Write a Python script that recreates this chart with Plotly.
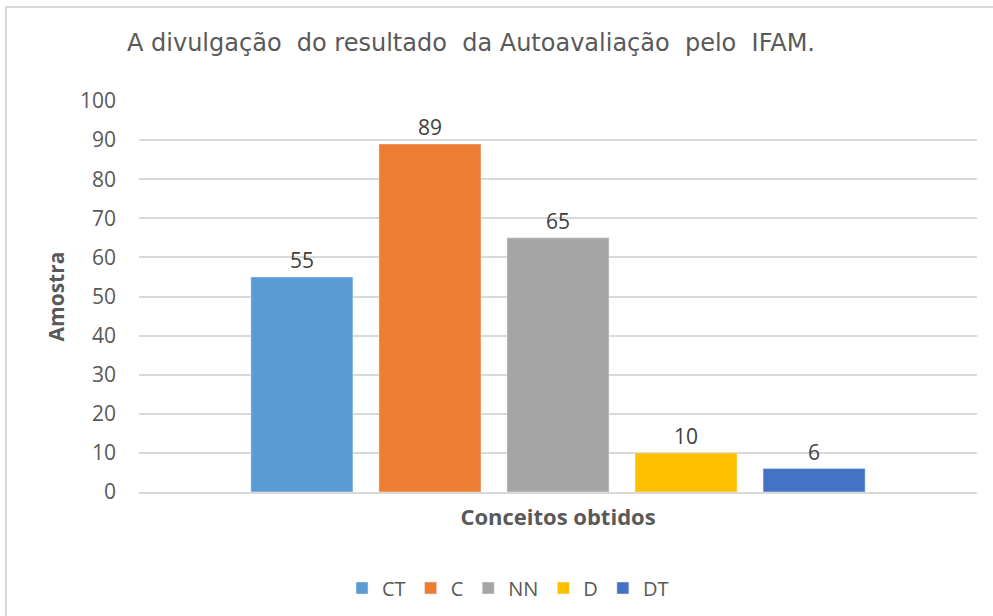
import plotly.graph_objects as go

series = ["CT", "C", "NN", "D", "DT"]
values = [55, 89, 65, 10, 6]
colors = ["#5B9BD5", "#ED7D31", "#A5A5A5", "#FFC000", "#4472C4"]
category = [""]
title_text = "A divulgação  do resultado  da Autoavaliação  pelo  IFAM."
x_title = "Conceitos obtidos"
y_title = "Amostra"
y_ticks = list(range(0, 101, 10))

W, H = 993, 616
L, R, T, B = 139, 16, 101, 124
pw, ph = W - L - R, H - T - B

fig = go.Figure()
for s, v, c in zip(series, values, colors):
    fig.add_trace(go.Bar(
        x=category, y=[v], name=s, marker_color=c,
        text=[str(v)], textposition="outside", cliponaxis=False,
        textfont=dict(family="Open Sans", size=21, color="#404040"),
    ))

fig.update_layout(
    width=W, height=H,
    margin=dict(l=L, r=R, t=T, b=B, autoexpand=False),
    paper_bgcolor="white", plot_bgcolor="white",
    barmode="group", bargap=0.236, bargroupgap=0.203,
    title=dict(text=title_text, x=471 / W, xanchor="center", y=1 - 43 / H, yanchor="middle",
               font=dict(family="DejaVu Sans", size=24, color="#595959")),
    showlegend=True,
    legend=dict(orientation="h", x=(508 - L) / pw, xanchor="center", y=-(588 - (T + ph)) / ph, yanchor="middle",
                font=dict(family="Open Sans", size=20, color="#595959"),
                itemwidth=30, traceorder="normal", tracegroupgap=0),
    xaxis=dict(showticklabels=False, showgrid=False, showline=True, linecolor="#D9D9D9", linewidth=2,
               title=dict(text=x_title, standoff=17,
                          font=dict(family="Open Sans", size=22, color="#595959", weight="bold"))),
    yaxis=dict(range=[0, 100], tickvals=y_ticks, showgrid=True, gridcolor="#D9D9D9", gridwidth=1.5,
               zeroline=False, showline=False, ticklabelstandoff=22,
               tickfont=dict(family="Open Sans", size=21, color="#595959"),
               title=dict(text=y_title, standoff=9,
                          font=dict(family="Open Sans", size=21, color="#595959", weight="bold"))),
    font=dict(family="Open Sans", color="#595959"),
)

# chart-area border (left and top visible in the reference)
fig.add_shape(type="rect", xref="paper", yref="paper",
              x0=(6 - L) / pw, x1=(W + 20 - L) / pw,
              y0=-(H + 20 - (T + ph)) / ph, y1=((T + ph) - 7) / ph,
              line=dict(color="#D9D9D9", width=2), fillcolor="rgba(0,0,0,0)", layer="below")

fig.write_html("out.html", config={"displayModeBar": False},
               post_script="document.body.style.margin='0px';")
